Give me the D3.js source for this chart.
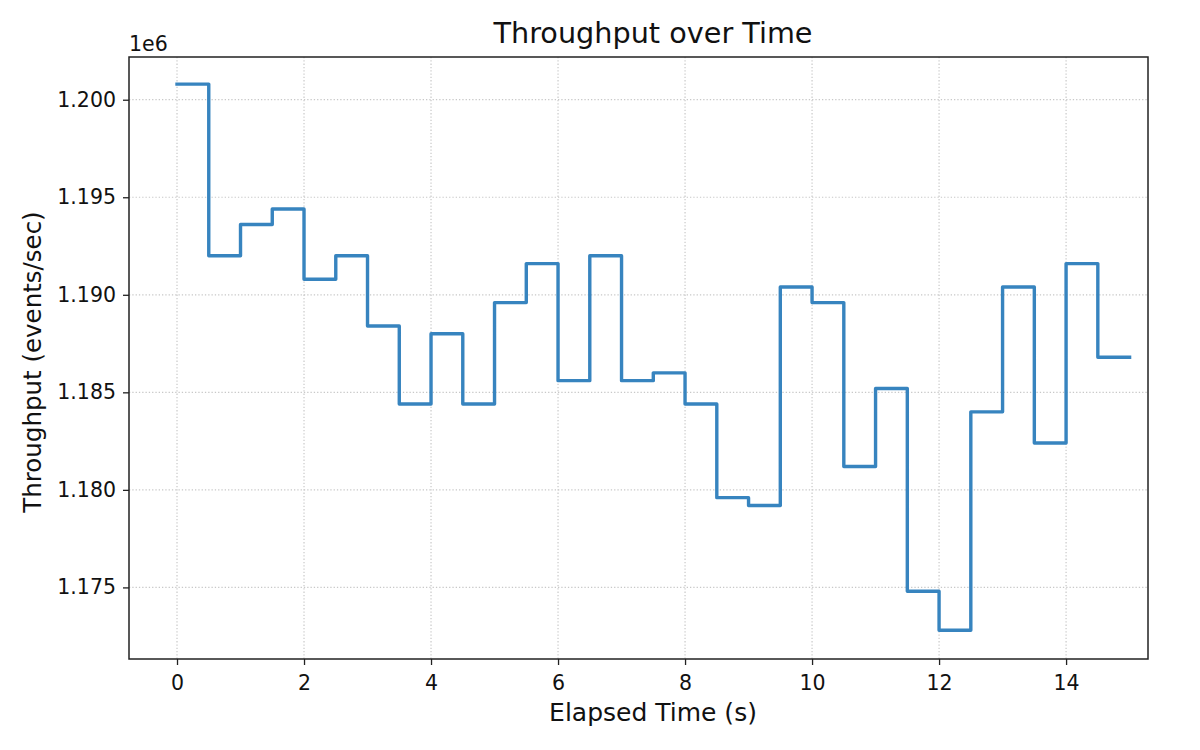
<!DOCTYPE html>
<html>
<head>
<meta charset="utf-8">
<script src="https://cdn.jsdelivr.net/npm/d3@7"></script>
<style>
  html, body { margin: 0; padding: 0; background: #ffffff; }
  svg { display: block; font-family: "DejaVu Sans", sans-serif; }
</style>
</head>
<body>
<svg id="chart" width="1200" height="750"></svg>
<script>
// ---- data ----
const elapsedTime = [0, 0.5, 1, 1.5, 2, 2.5, 3, 3.5, 4, 4.5, 5, 5.5, 6, 6.5, 7, 7.5,
                     8, 8.5, 9, 9.5, 10, 10.5, 11, 11.5, 12, 12.5, 13, 13.5, 14, 14.5, 15];
const throughput = [1200800, 1192000, 1193600, 1194400, 1190800, 1192000, 1188400, 1184400,
                    1188000, 1184400, 1189600, 1191600, 1185600, 1192000, 1185600, 1186000,
                    1184400, 1179600, 1179200, 1190400, 1189600, 1181200, 1185200, 1174800,
                    1172800, 1184000, 1190400, 1182400, 1191600, 1186800, 1186800];
const xTicks = [0, 2, 4, 6, 8, 10, 12, 14];
const yTicks = [1175000, 1180000, 1185000, 1190000, 1195000, 1200000];
const titleText = "Throughput over Time";
const xLabelText = "Elapsed Time (s)";
const yLabelText = "Throughput (events/sec)";
const offsetText = "1e6";

// ---- layout ----
const plot = { left: 129, right: 1148, top: 57, bottom: 659 };
const svg = d3.select("#chart");
svg.append("rect").attr("width", 1200).attr("height", 750).attr("fill", "#ffffff");

const x = d3.scaleLinear().domain([-0.756, 15.29]).range([plot.left, plot.right]);
const y = d3.scaleLinear().domain([1171330, 1202190]).range([plot.bottom, plot.top]);

const g = svg.append("g");

// grid
g.append("g").selectAll("line").data(xTicks).join("line")
  .attr("x1", d => x(d)).attr("x2", d => x(d))
  .attr("y1", plot.top).attr("y2", plot.bottom)
  .attr("stroke", "#c8c8c8").attr("stroke-width", 1.2).attr("stroke-dasharray", "1.3,2");
g.append("g").selectAll("line").data(yTicks).join("line")
  .attr("x1", plot.left).attr("x2", plot.right)
  .attr("y1", d => y(d)).attr("y2", d => y(d))
  .attr("stroke", "#c8c8c8").attr("stroke-width", 1.2).attr("stroke-dasharray", "1.3,2");

// step line
const pts = elapsedTime.map((t, i) => [t, throughput[i]]);
const line = d3.line().x(d => x(d[0])).y(d => y(d[1])).curve(d3.curveStepAfter);
g.append("path").datum(pts)
  .attr("d", line)
  .attr("fill", "none")
  .attr("stroke", "#3784bf")
  .attr("stroke-width", 3.4)
  .attr("stroke-linejoin", "round")
  .attr("stroke-linecap", "square");

// axes
const xAxis = d3.axisBottom(x).tickValues(xTicks).tickFormat(d3.format("d"))
  .tickSizeInner(6).tickSizeOuter(0).tickPadding(10);
const yAxis = d3.axisLeft(y).tickValues(yTicks).tickFormat(d => (d / 1e6).toFixed(3))
  .tickSizeInner(6).tickSizeOuter(0).tickPadding(7);

const gx = svg.append("g").attr("transform", `translate(0,${plot.bottom})`).call(xAxis);
const gy = svg.append("g").attr("transform", `translate(${plot.left},0)`).call(yAxis);
[gx, gy].forEach(a => {
  a.select(".domain").remove();
  a.selectAll(".tick line").attr("stroke", "#222222").attr("stroke-width", 1.3);
  a.selectAll(".tick text").attr("fill", "#111111")
    .style("font-family", "DejaVu Sans").style("font-size", "20.5px");
});

// frame
svg.append("rect")
  .attr("x", plot.left).attr("y", plot.top)
  .attr("width", plot.right - plot.left).attr("height", plot.bottom - plot.top)
  .attr("fill", "none").attr("stroke", "#222222").attr("stroke-width", 1.5);

// texts
const textCenterX = 653;
svg.append("text").text(titleText)
  .attr("x", textCenterX).attr("y", 43)
  .attr("text-anchor", "middle").attr("fill", "#111111")
  .style("font-size", "28.7px");
svg.append("text").text(xLabelText)
  .attr("x", textCenterX).attr("y", 721)
  .attr("text-anchor", "middle").attr("fill", "#111111")
  .style("font-size", "25px");
svg.append("text").text(yLabelText)
  .attr("transform", `translate(41,362) rotate(-90)`)
  .attr("text-anchor", "middle").attr("fill", "#111111")
  .style("font-size", "24.5px");
svg.append("text").text(offsetText)
  .attr("x", plot.left).attr("y", 51)
  .attr("text-anchor", "start").attr("fill", "#111111")
  .style("font-size", "20.5px");
</script>
</body>
</html>
